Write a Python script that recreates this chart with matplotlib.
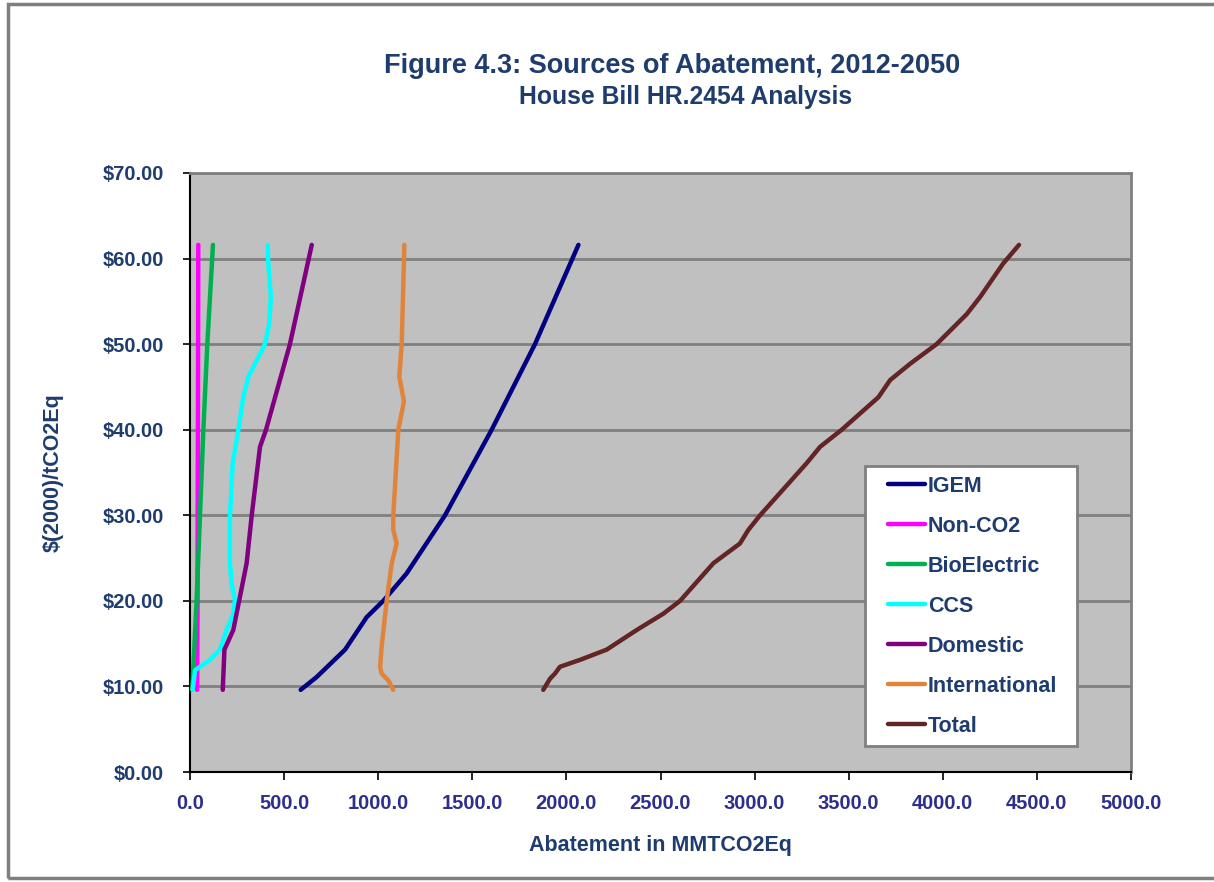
import matplotlib
matplotlib.use("Agg")
import matplotlib.pyplot as plt
from matplotlib.patches import Rectangle

plt.rcParams['font.family'] = ['Liberation Sans', 'DejaVu Sans']

# ---- data ----
igem_price = [9.6, 11.1, 14.3, 18.1, 20.0, 23.2, 30.0, 40.0, 50.0, 61.6]
igem_abate = [588, 673, 824, 939, 1027, 1151, 1355, 1603, 1833, 2064]

nonco2_price = [9.6, 20.0, 30.0, 40.0, 50.0, 61.6]
nonco2_abate = [38, 40, 41, 42, 43, 44]

bio_price = [9.6, 20.0, 30.0, 40.0, 50.0, 61.6]
bio_abate = [12, 35, 53, 71, 92, 122]

ccs_price = [9.6, 11.9, 13.1, 14.3, 16.6, 18.5, 20.1, 22.0, 24.4, 29.8, 36.1,
             40.0, 43.8, 46.2, 47.7, 50.0, 52.4, 55.5, 59.4, 61.6]
ccs_abate = [14, 27, 106, 159, 195, 230, 239, 221, 212, 212, 227,
             257, 283, 310, 345, 398, 421, 430, 416, 413]

dom_price = [9.6, 14.3, 16.6, 20.1, 24.4, 30.0, 38.0, 40.0, 50.0, 61.6]
dom_abate = [174, 183, 230, 262, 301, 328, 372, 404, 531, 647]

intl_price = [9.6, 10.7, 11.5, 12.3, 14.6, 20.0, 24.4, 26.7, 28.3, 30.0, 40.0,
              43.3, 46.2, 50.0, 61.6]
intl_abate = [1080, 1054, 1018, 1010, 1018, 1045, 1072, 1098, 1080, 1080, 1107,
              1137, 1112, 1125, 1139]

total_price = [9.6, 10.9, 11.5, 12.3, 13.1, 14.3, 16.6, 18.5, 20.0, 24.4, 26.7,
               28.3, 30.0, 36.1, 38.0, 40.0, 43.8, 45.8, 47.7, 50.0, 53.5, 55.5,
               59.4, 61.6]
total_abate = [1877, 1913, 1939, 1966, 2072, 2214, 2374, 2515, 2604, 2781, 2922,
               2967, 3029, 3277, 3348, 3463, 3658, 3720, 3826, 3967, 4127, 4198,
               4320, 4405]

series_names = ['IGEM', 'Non-CO2', 'BioElectric', 'CCS', 'Domestic', 'International', 'Total']
series_colors = ['#000080', '#FF00FF', '#00B050', '#00FFFF', '#800080', '#E0843C', '#632523']

x_ticks = [0, 500, 1000, 1500, 2000, 2500, 3000, 3500, 4000, 4500, 5000]
y_ticks = [0, 10, 20, 30, 40, 50, 60, 70]

title = 'Figure 4.3: Sources of Abatement, 2012-2050'
subtitle = 'House Bill HR.2454 Analysis'
xlabel = 'Abatement in MMTCO2Eq'
ylabel = '$(2000)/tCO2Eq'

# ---- figure ----
W, H = 1214, 882
fig = plt.figure(figsize=(W / 100, H / 100), dpi=100)
fig.patch.set_facecolor('white')

# outer frame
fig.add_artist(Rectangle((8 / W, 4 / H), 1.2, (878 - 4) / H, transform=fig.transFigure,
                         fill=False, edgecolor='#7F7F7F', linewidth=2.5))

ax = fig.add_axes([190 / W, 1 - 772 / H, 941 / W, 599 / H])
ax.set_facecolor('#C0C0C0')

text_col = '#1F3C6E'
tick_col_x = '#2E2E8C'

data = [(igem_abate, igem_price), (nonco2_abate, nonco2_price), (bio_abate, bio_price),
        (ccs_abate, ccs_price), (dom_abate, dom_price), (intl_abate, intl_price),
        (total_abate, total_price)]
for (xs, ys), name, col in zip(data, series_names, series_colors):
    ax.plot(xs, ys, color=col, lw=3.2, label=name, solid_capstyle='round',
            solid_joinstyle='round', zorder=3)

ax.set_xlim(0, 5000)
ax.set_ylim(0, 70)
ax.set_xticks(x_ticks)
ax.set_yticks(y_ticks)
ax.set_xticklabels([f'{v:.1f}' for v in x_ticks], fontsize=14.5, fontweight='bold', color=tick_col_x)
ax.set_yticklabels([f'${v:.2f}' for v in y_ticks], fontsize=14.5, fontweight='bold', color=text_col)
ax.tick_params(axis='x', direction='out', length=6, width=1.2, pad=10, color='black')
ax.tick_params(axis='y', direction='out', length=5, width=1.2, pad=14, color='black')

ax.grid(axis='y', color='#7F7F7F', lw=2.0, zorder=1)
ax.set_axisbelow(True)
for s in ['top', 'right']:
    ax.spines[s].set_color('#7F7F7F')
    ax.spines[s].set_linewidth(2.0)
for s in ['left', 'bottom']:
    ax.spines[s].set_color('black')
    ax.spines[s].set_linewidth(1.5)

ax.set_xlabel(xlabel, fontsize=15.5, fontweight='bold', color=text_col, labelpad=16)
ax.set_ylabel(ylabel, fontsize=15.5, fontweight='bold', color=text_col, labelpad=28)

fig.text(672 / W, 1 - 66 / H, title, ha='center', va='center', fontsize=19.5,
         fontweight='bold', color=text_col)
fig.text(686 / W, 1 - 97 / H, subtitle, ha='center', va='center', fontsize=17.8,
         fontweight='bold', color=text_col)

# legend frame drawn as an axes patch, legend content placed inside it
frame = Rectangle((865 / W, 1 - 746 / H), (1077 - 865) / W, (746 - 466) / H,
                  transform=fig.transFigure, facecolor='white',
                  edgecolor='#7F7F7F', linewidth=2.0, zorder=4, clip_on=False)
ax.add_patch(frame)
leg = ax.legend(loc='upper left', bbox_to_anchor=(888 / W, 1 - 476 / H),
                bbox_transform=fig.transFigure, frameon=False, fontsize=15.5,
                handlelength=1.72, handletextpad=0.14, labelspacing=0.88,
                borderpad=0, borderaxespad=0)
leg.set_zorder(5)
for t in leg.get_texts():
    t.set_color(text_col)
    t.set_fontweight('bold')

fig.savefig('out.png', dpi=100)
